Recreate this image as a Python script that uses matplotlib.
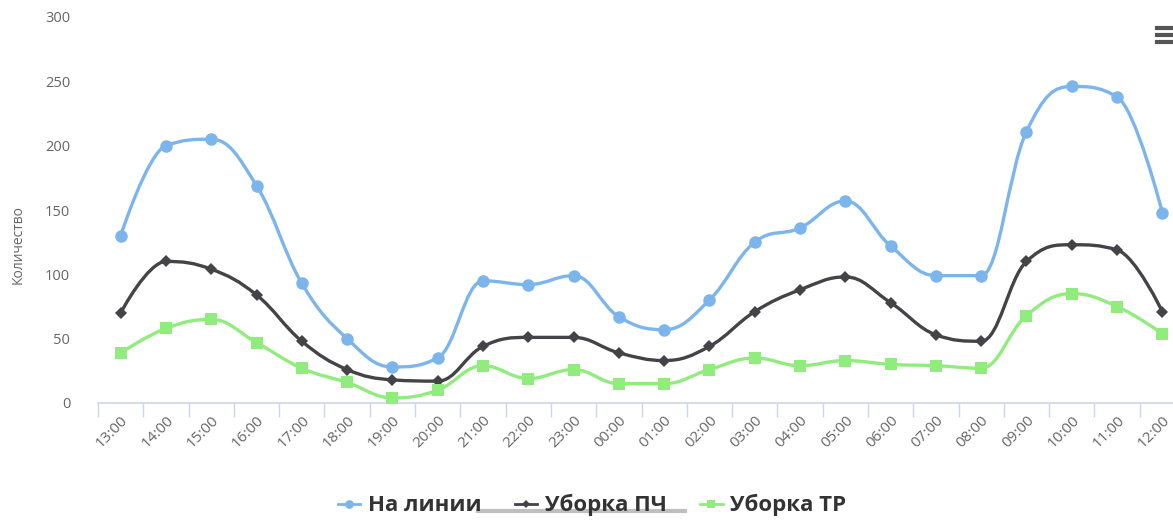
import numpy as np
import matplotlib
matplotlib.use("Agg")
import matplotlib.pyplot as plt
from matplotlib.path import Path
from matplotlib.patches import PathPatch
from matplotlib.lines import Line2D

plt.rcParams['font.family'] = ['Open Sans', 'DejaVu Sans']

hours = ["13:00", "14:00", "15:00", "16:00", "17:00", "18:00", "19:00", "20:00",
         "21:00", "22:00", "23:00", "00:00", "01:00", "02:00", "03:00", "04:00",
         "05:00", "06:00", "07:00", "08:00", "09:00", "10:00", "11:00", "12:00"]
on_line = [130, 200, 205, 169, 93, 50, 28, 35, 95, 92, 99, 67, 57, 80, 125, 136,
           157, 122, 99, 99, 211, 246, 238, 148]
clean_pch = [70, 110, 104, 84, 48, 26, 18, 17, 44, 51, 51, 39, 33, 44, 71, 88,
             98, 78, 53, 48, 110, 123, 119, 71]
clean_tr = [39, 58, 65, 47, 27, 16, 4, 10, 29, 19, 26, 15, 15, 26, 35, 29,
            33, 30, 29, 27, 68, 85, 75, 54]

series = [
    ("На линии", on_line, "#7cb5ec", "o", 9),
    ("Уборка ПЧ", clean_pch, "#434348", "D", 6.5),
    ("Уборка ТР", clean_tr, "#90ed7d", "s", 8),
]


def spline_path(xs, ys, smoothing=1.5):
    # Highcharts-like spline: cubic bezier segments with clamped control points
    n = len(xs)
    lc = [(xs[i], ys[i]) for i in range(n)]
    rc = [(xs[i], ys[i]) for i in range(n)]
    denom = smoothing + 1
    for i in range(1, n - 1):
        px, py = xs[i], ys[i]
        lx, ly = xs[i - 1], ys[i - 1]
        nx, ny = xs[i + 1], ys[i + 1]
        lcx = (smoothing * px + lx) / denom
        lcy = (smoothing * py + ly) / denom
        rcx = (smoothing * px + nx) / denom
        rcy = (smoothing * py + ny) / denom
        corr = (rcy - lcy) * (rcx - px) / (rcx - lcx) + py - rcy
        lcy += corr
        rcy += corr
        if lcy > ly and lcy > py:
            lcy = max(ly, py)
            rcy = 2 * py - lcy
        elif lcy < ly and lcy < py:
            lcy = min(ly, py)
            rcy = 2 * py - lcy
        if rcy > ny and rcy > py:
            rcy = max(ny, py)
            lcy = 2 * py - rcy
        elif rcy < ny and rcy < py:
            rcy = min(ny, py)
            lcy = 2 * py - rcy
        lc[i] = (lcx, lcy)
        rc[i] = (rcx, rcy)
    verts = [(xs[0], ys[0])]
    codes = [Path.MOVETO]
    for i in range(n - 1):
        verts += [rc[i], lc[i + 1], (xs[i + 1], ys[i + 1])]
        codes += [Path.CURVE4] * 3
    return Path(verts, codes)


fig = plt.figure(figsize=(11.73, 5.21), dpi=100)
ax = fig.add_axes([98 / 1173, 118 / 521, 1087 / 1173, 386 / 521])

x = np.arange(len(hours))
handles = []
for name, vals, color, marker, ms in series:
    path = spline_path(list(x.astype(float)), [float(v) for v in vals])
    ax.add_patch(PathPatch(path, facecolor="none", edgecolor=color, lw=2.4,
                           zorder=2, capstyle="round", joinstyle="round"))
    ax.plot(x, vals, linestyle="none", marker=marker, color=color,
            markersize=ms, markeredgewidth=0, zorder=3)
    handles.append(Line2D([], [], color=color, lw=2, marker=marker,
                          markersize=ms * 0.7, markeredgewidth=0, label=name))

ax.set_xlim(-0.5, len(hours) - 0.5)
ax.set_ylim(0, 300)
ax.set_yticks(range(0, 301, 50))
ax.tick_params(axis="y", length=0, pad=20, labelsize=10.5, labelcolor="#666666")

ax.set_xticks(np.arange(-0.5, len(hours), 1.0))
ax.set_xticklabels([])
ax.tick_params(axis="x", which="major", length=10, width=1, color="#ccd6eb",
               direction="out")
ax.set_xticks(x, minor=True)
ax.set_xticklabels(hours, minor=True, rotation=45, ha="right",
                   rotation_mode="anchor", fontsize=11, color="#666666")
ax.tick_params(axis="x", which="minor", length=0, pad=7)

for side in ["top", "right", "left"]:
    ax.spines[side].set_visible(False)
ax.spines["bottom"].set_color("#ccd6eb")
ax.spines["bottom"].set_linewidth(1.2)

fig.text(18 / 1173, 0.5 + 0.03, "Количество", rotation=90, ha="center",
         va="center", fontsize=10, color="#666666")

leg = fig.legend(handles=handles, loc="center", bbox_to_anchor=(0.505, 0.03),
                 ncol=3, frameon=False, handlelength=1.0, handletextpad=0.35,
                 columnspacing=1.5, prop={"size": 16, "weight": "bold"})
for t in leg.get_texts():
    t.set_color("#333333")

# grey scrollbar-like strip under the legend
fig.add_artist(Line2D([478 / 1173, 685 / 1173], [1 - 511 / 521, 1 - 511 / 521],
                      color="#b0b0b0", lw=3, alpha=0.8))

# menu icon
for yy in (28, 35, 42):
    fig.add_artist(Line2D([1157 / 1173, 1173 / 1173], [1 - yy / 521, 1 - yy / 521],
                          color="#555555", lw=3))

fig.savefig("out.png", dpi=100)
